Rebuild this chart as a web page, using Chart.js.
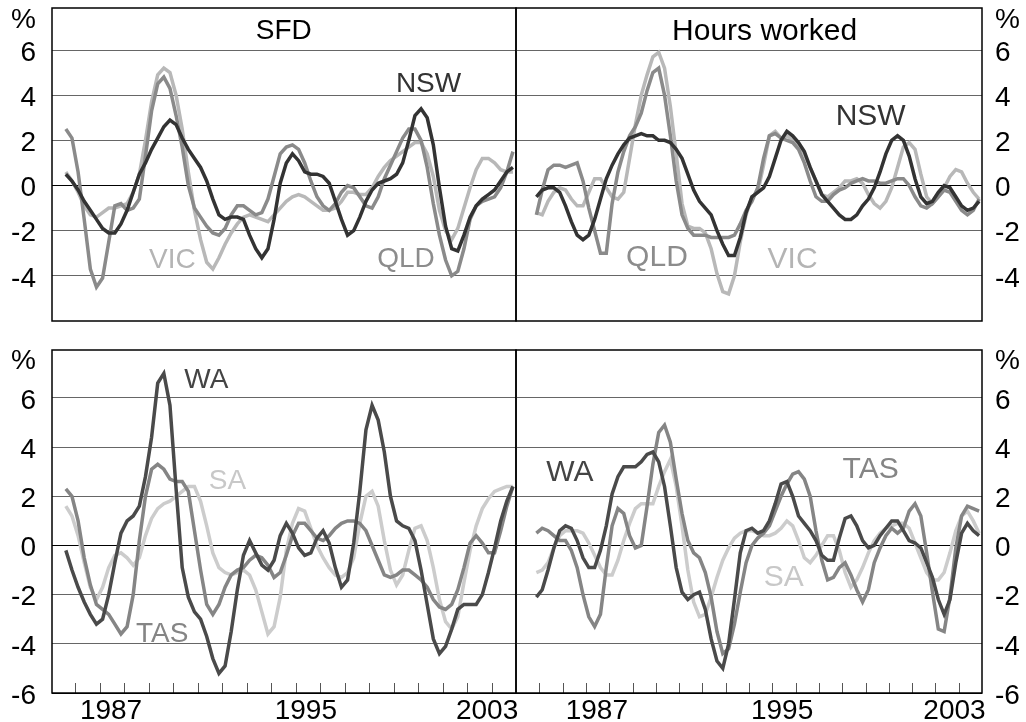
<!DOCTYPE html>
<html>
<head>
<meta charset="utf-8">
<title>SFD and hours worked by state</title>
<script src="https://cdn.jsdelivr.net/npm/chart.js@4.4.1/dist/chart.umd.min.js"></script>
<style>
  html, body { margin: 0; padding: 0; background: #fff; }
  #wrap { position: relative; width: 1026px; height: 722px; }
  #wrap canvas { position: absolute; left: 0; top: 0; }
</style>
</head>
<body>
<div id="wrap">
  <canvas id="sfdTop" width="1026" height="722"></canvas>
  <canvas id="hoursTop" width="1026" height="722"></canvas>
  <canvas id="sfdBottom" width="1026" height="722"></canvas>
  <canvas id="hoursBottom" width="1026" height="722"></canvas>
</div>
<script>
// quarterly, plotted at mid-quarter; SFD starts 1985 Q3, hours worked 1984 Q4
var sfdQuarters = [];
for (var q = 0; q < 74; q++) sfdQuarters.push(1985.625 + q * 0.25);
var hoursQuarters = [];
for (var q2 = 0; q2 < 77; q2++) hoursQuarters.push(1984.875 + q2 * 0.25);

var yearLabels = ["1987", "1995", "2003"];
var yearLabelAt = [1987.47, 1995.42, 2002.82];
var topTicks = [-4, -2, 0, 2, 4, 6];
var bottomTicks = [-6, -4, -2, 0, 2, 4, 6];

// SFD, top panel
var nswSfd = [0.5,0.2,-0.2,-0.7,-1.1, -1.5,-1.9,-2.1,-2.1,-1.7, -1.1,-0.3,0.5,1.0,1.6, 2.1,2.6,2.9,2.7,2.1,
  1.6,1.2,0.8,0.2,-0.6, -1.3,-1.5,-1.4,-1.4,-1.5, -2.2,-2.8,-3.2,-2.8,-1.5, 0.1,1.0,1.4,1.1,0.6,
  0.5,0.5,0.4,0.1,-0.7, -1.5,-2.2,-2.0,-1.4,-0.7, -0.2,0.1,0.2,0.3,0.5, 1.0,2.0,3.1,3.4,3.0,
  1.8,-0.1,-1.8,-2.8,-2.9, -2.2,-1.4,-0.9,-0.6,-0.4, -0.2,0.2,0.6,0.8];
var vicSfd = [0.6,0.2,-0.3,-0.9,-1.3, -1.4,-1.2,-1.0,-1.0,-0.9, -0.8,-0.3,0.5,2.0,3.7, 4.9,5.2,5.0,4.0,2.5,
  0.6,-1.1,-2.4,-3.4,-3.7, -3.2,-2.6,-2.1,-1.7,-1.4, -1.3,-1.4,-1.5,-1.6,-1.3, -1.0,-0.7,-0.5,-0.4,-0.5,
  -0.7,-0.9,-1.1,-1.1,-1.0, -0.7,-0.3,-0.3,-0.4,-0.4, -0.1,0.4,0.8,1.1,1.3, 1.5,1.7,1.9,1.9,1.4,
  0.4,-1.1,-2.0,-2.4,-1.9, -1.0,-0.1,0.7,1.2,1.2, 1.0,0.7,0.6,0.6];
var qldSfd = [2.5,2.1,0.6,-1.5,-3.7, -4.5,-4.1,-2.5,-0.9,-0.8, -1.1,-1.0,-0.6,1.3,3.3, 4.5,4.8,4.3,3.1,1.7,
  0.0,-1.0,-1.4,-1.8,-2.1, -2.2,-1.9,-1.3,-0.9,-0.9, -1.1,-1.3,-1.2,-0.6,0.4, 1.4,1.7,1.8,1.6,1.0,
  0.2,-0.5,-0.9,-1.1,-0.8, -0.3,0.0,-0.1,-0.5,-0.9, -1.0,-0.5,0.3,0.9,1.5, 2.1,2.5,2.5,2.0,0.8,
  -0.8,-2.2,-3.3,-4.0,-3.8, -2.8,-1.5,-0.9,-0.7,-0.6, -0.5,-0.1,0.6,1.5];

// SFD, bottom panel
var waSfd = [-0.2,-1.0,-1.7,-2.3,-2.8, -3.2,-3.0,-2.0,-0.7,0.5, 1.0,1.2,1.6,2.8,4.4, 6.6,7.0,5.7,2.3,-0.9,
  -2.1,-2.7,-3.0,-3.7,-4.6, -5.2,-4.9,-3.5,-1.8,-0.4, 0.2,-0.3,-0.8,-1.0,-0.6, 0.4,0.9,0.5,-0.1,-0.4,
  -0.3,0.3,0.6,0.1,-0.9, -1.7,-1.4,0.1,2.2,4.7, 5.7,5.1,3.8,2.0,1.0, 0.8,0.7,0.2,-1.0,-2.4,
  -3.8,-4.4,-4.1,-3.4,-2.6, -2.4,-2.4,-2.4,-2.0,-1.1, -0.1,1.0,1.8,2.4];
var tasSfd = [2.3,2.0,1.0,-0.5,-1.6, -2.4,-2.6,-2.8,-3.2,-3.6, -3.3,-2.0,0.2,2.0,3.1, 3.3,3.1,2.7,2.6,2.6,
  2.2,0.6,-1.0,-2.4,-2.8, -2.4,-1.7,-1.2,-1.0,-0.9, -0.6,-0.4,-0.5,-0.8,-1.3, -1.1,-0.4,0.4,0.9,0.9,
  0.6,0.3,0.2,0.4,0.7, 0.9,1.0,1.0,0.9,0.6, 0.0,-0.6,-1.2,-1.3,-1.2, -1.0,-1.0,-1.2,-1.4,-1.7,
  -2.2,-2.5,-2.6,-2.4,-1.8, -0.9,0.1,0.4,0.1,-0.3, -0.3,0.6,1.6,2.4];
var saSfd = [1.6,1.2,0.4,-0.7,-1.7, -2.2,-1.7,-0.9,-0.4,-0.3, -0.5,-0.8,-0.5,0.4,1.1, 1.5,1.7,1.8,2.0,2.2,
  2.4,2.4,1.8,0.8,-0.3, -0.9,-1.1,-1.2,-1.1,-1.0, -1.2,-1.8,-2.7,-3.6,-3.3, -2.1,-0.2,0.9,1.5,1.4,
  0.7,0.0,-0.5,-0.9,-1.2, -1.3,-1.1,-0.5,0.9,2.0, 2.2,1.6,0.2,-1.0,-1.6, -1.2,-0.2,0.7,0.8,0.2,
  -0.9,-2.2,-3.1,-3.4,-2.9, -1.5,-0.2,0.8,1.5,1.9, 2.2,2.3,2.4,2.4];

// Hours worked, top panel
var nswHours = [-0.5,-0.2,-0.1,-0.1,-0.3, -0.9,-1.6,-2.2,-2.4,-2.2, -1.5,-0.6,0.3,0.9,1.4, 1.8,2.1,2.2,2.3,2.2,
  2.2,2.0,2.0,1.9,1.6, 1.2,0.5,-0.2,-0.7,-1.0, -1.3,-2.0,-2.6,-3.1,-3.1, -2.3,-1.2,-0.5,-0.3,-0.1,
  0.4,1.2,2.0,2.4,2.2, 1.9,1.5,0.8,0.2,-0.4, -0.7,-1.0,-1.3,-1.5,-1.5, -1.3,-0.9,-0.6,-0.1,0.6,
  1.4,2.0,2.2,2.0,1.3, 0.3,-0.5,-0.8,-0.7,-0.3, 0.0,-0.1,-0.5,-0.9,-1.1, -1.0,-0.7];
var qldHours = [-1.3,-0.2,0.7,0.9,0.9, 0.8,0.9,1.0,0.2,-1.0, -2.0,-3.0,-3.0,-0.8,0.6, 1.5,2.2,2.6,3.2,4.2,
  5.0,5.2,4.0,2.2,0.2, -1.3,-1.9,-2.2,-2.2,-2.2, -2.3,-2.3,-2.3,-2.3,-2.2, -1.7,-1.1,-0.7,-0.1,1.2,
  2.2,2.3,2.1,2.0,1.9, 1.6,1.0,0.2,-0.5,-0.7, -0.7,-0.4,-0.2,-0.1,0.1, 0.2,0.3,0.2,0.2,0.1,
  0.1,0.2,0.3,0.3,0.0, -0.5,-0.9,-1.0,-0.8,-0.5, -0.2,-0.3,-0.7,-1.1,-1.3, -1.1,-0.6];
var vicHours = [-1.2,-1.3,-0.7,-0.3,-0.1, -0.2,-0.6,-0.9,-0.9,-0.3, 0.3,0.3,-0.1,-0.5,-0.6, -0.3,1.2,2.7,4.0,4.9,
  5.7,5.9,5.2,3.5,1.4, -0.8,-1.8,-1.9,-1.9,-2.1, -2.8,-3.9,-4.7,-4.8,-4.0, -2.5,-1.3,-0.5,-0.3,0.9,
  2.2,2.4,2.1,2.2,2.0, 1.8,1.4,0.8,0.2,-0.4, -0.5,-0.3,-0.1,0.2,0.2, 0.3,0.1,-0.4,-0.8,-1.0,
  -0.7,-0.1,0.8,1.7,1.9, 1.6,0.5,-0.5,-0.8,-0.5, -0.1,0.4,0.7,0.6,0.1, -0.3,-0.6];

// Hours worked, bottom panel
var waHours = [-2.1,-1.8,-1.0,-0.1,0.6, 0.8,0.7,0.2,-0.5,-0.9, -0.9,-0.2,0.8,2.1,2.8, 3.2,3.2,3.2,3.4,3.7,
  3.8,3.4,2.4,0.8,-0.9, -1.9,-2.2,-2.0,-1.9,-2.6, -3.8,-4.7,-5.0,-4.0,-2.2, -0.3,0.6,0.7,0.5,0.6,
  1.0,1.7,2.5,2.6,2.0, 1.2,0.9,0.6,0.2,-0.4, -0.6,-0.6,0.3,1.1,1.2, 0.8,0.2,-0.1,0.0,0.4,
  0.7,1.0,1.0,0.6,0.2, 0.1,-0.1,-0.7,-1.3,-2.2, -2.8,-2.2,-0.7,0.5,0.9, 0.6,0.4];
var tasHours = [0.5,0.7,0.6,0.4,0.2, 0.2,-0.2,-0.9,-2.0,-2.9, -3.3,-2.8,-0.9,0.8,1.5, 1.3,0.4,-0.1,0.0,1.6,
  3.3,4.6,4.9,4.2,2.7, 1.3,0.2,-0.3,-0.5,-1.1, -2.1,-3.5,-4.4,-4.2,-3.2, -1.9,-0.7,0.0,0.3,0.5,
  0.8,1.4,2.0,2.5,2.9, 3.0,2.7,2.0,0.6,-0.6, -1.4,-1.3,-0.9,-0.7,-1.2, -1.8,-2.3,-1.8,-0.7,-0.1,
  0.4,0.7,0.5,0.7,1.4, 1.7,1.2,-0.3,-1.9,-3.4, -3.5,-2.1,-0.1,1.2,1.6, 1.5,1.4];
var saHours = [-1.1,-1.0,-0.7,-0.1,0.4, 0.6,0.6,0.6,0.5,0.1, -0.4,-0.9,-1.2,-1.2,-0.6, 0.2,0.9,1.5,1.7,1.7,
  1.7,2.4,3.0,3.5,2.4, 0.8,-1.0,-2.3,-2.9,-2.8, -2.1,-1.3,-0.6,-0.1,0.3, 0.5,0.6,0.6,0.5,0.4,
  0.4,0.5,0.7,1.0,0.8, 0.2,-0.5,-0.7,-0.4,0.0, 0.4,0.4,-0.2,-1.1,-1.7, -1.4,-0.9,-0.3,0.2,0.5,
  0.7,0.8,0.9,0.9,0.7, 0.1,-0.5,-1.1,-1.4,-1.4, -1.1,-0.3,0.6,1.2,1.4, 1.0,0.5];

var FONT = "'Liberation Sans', Arial, sans-serif";
Chart.defaults.font.family = FONT;
Chart.defaults.font.size = 28;
Chart.defaults.color = "#000";

// frame, inward year ticks and the text labels inside each panel
var panelExtras = {
  id: "panelExtras",
  afterDatasetsDraw: function (chart, args, opts) {
    var ctx = chart.ctx, a = chart.chartArea, sx = chart.scales.x, sy = chart.scales.y;
    ctx.save();
    if (opts.yearTicks) {
      ctx.strokeStyle = "#555";
      ctx.lineWidth = 1;
      for (var yr = Math.ceil(sx.min + 0.01); yr < sx.max - 0.01; yr++) {
        var px = Math.round(sx.getPixelForValue(yr)) + 0.5;
        ctx.beginPath();
        ctx.moveTo(px, a.bottom);
        ctx.lineTo(px, a.bottom - 10);
        ctx.stroke();
      }
    }
    ctx.strokeStyle = "#000";
    ctx.lineWidth = 1.5;
    ctx.strokeRect(a.left, a.top, a.right - a.left, a.bottom - a.top);
    ctx.textAlign = "center";
    ctx.textBaseline = "middle";
    (opts.labels || []).forEach(function (l) {
      ctx.font = (opts.fontSize || 28) + "px " + FONT;
      ctx.fillStyle = l.color;
      // same small downward nudge as the tick labels get
      ctx.fillText(l.text, sx.getPixelForValue(l.x), sy.getPixelForValue(l.y) + 3);
    });
    ctx.restore();
  }
};

function noPadding(s) {
  s.paddingTop = 0;
  s.paddingBottom = 0;
  s.paddingLeft = 0;
  s.paddingRight = 0;
}

function makePanel(id, cfg) {
  var left = cfg.side === "left";
  return new Chart(document.getElementById(id), {
    type: "line",
    data: {
      datasets: cfg.series.map(function (s) {
        return {
          label: s.name,
          data: cfg.quarters.map(function (q, i) { return { x: q, y: s.values[i] }; }),
          borderColor: s.color,
          borderWidth: 3.5,
          pointRadius: 0,
          tension: 0,
          fill: false
        };
      })
    },
    options: {
      responsive: false,
      animation: false,
      events: [],
      layout: { autoPadding: false, padding: cfg.padding },
      plugins: {
        legend: { display: false },
        tooltip: { enabled: false },
        panelExtras: { labels: cfg.labels, yearTicks: cfg.showYears, fontSize: left ? 28 : 30 }
      },
      scales: {
        x: {
          type: "linear",
          min: cfg.xMin,
          max: 2004,
          display: cfg.showYears,
          grid: { display: false, drawTicks: false },
          border: { display: false },
          ticks: {
            padding: 1,
            maxRotation: 0,
            autoSkip: false,
            callback: function (v, i) { return yearLabels[i]; }
          },
          afterBuildTicks: function (s) { s.ticks = yearLabelAt.map(function (v) { return { value: v }; }); },
          afterFit: function (s) { s.height = 29; noPadding(s); }
        },
        y: {
          type: "linear",
          min: -6,
          max: cfg.yMax,
          position: cfg.side,
          grid: {
            drawTicks: false,
            lineWidth: 1,
            color: function (c) {
              if (!c.tick) return "#666";
              if (c.tick.value > 7) return "rgba(0,0,0,0)";
              if (c.tick.value === 0 || c.tick.value === -6) return "#000";
              return "#666";
            }
          },
          border: { display: false },
          ticks: {
            padding: left ? 16 : 13,
            labelOffset: 3,
            callback: function (v) { return v > 7 ? "%" : String(v); }
          },
          afterBuildTicks: function (s) {
            s.ticks = cfg.yTicks.concat([cfg.pctAt]).map(function (v) { return { value: v }; });
          },
          afterFit: function (s) { s.width = left ? 52 : 44; noPadding(s); }
        }
      }
    },
    plugins: [panelExtras]
  });
}

makePanel("sfdTop", {
  side: "left", xMin: 1985.06, yMax: 7.86, yTicks: topTicks, pctAt: 7.46, showYears: false,
  padding: { left: 0, right: 510, top: 8, bottom: 372 },
  quarters: sfdQuarters,
  series: [
    { name: "NSW", values: nswSfd, color: "#333333" },
    { name: "QLD", values: qldSfd, color: "#8a8a8a" },
    { name: "VIC", values: vicSfd, color: "#b8b8b8" }
  ],
  labels: [
    { text: "SFD", x: 1994.52, y: 6.98, color: "#000" },
    { text: "NSW", x: 2000.43, y: 4.62, color: "#333333" },
    { text: "VIC", x: 1989.97, y: -3.16, color: "#b4b4b4" },
    { text: "QLD", x: 1999.51, y: -3.12, color: "#8c8c8c" }
  ]
});

makePanel("hoursTop", {
  side: "right", xMin: 1984, yMax: 7.86, yTicks: topTicks, pctAt: 7.46, showYears: false,
  padding: { left: 516, right: 0, top: 8, bottom: 372 },
  quarters: hoursQuarters,
  series: [
    { name: "NSW", values: nswHours, color: "#333333" },
    { name: "QLD", values: qldHours, color: "#8a8a8a" },
    { name: "VIC", values: vicHours, color: "#b8b8b8" }
  ],
  labels: [
    { text: "Hours worked", x: 1994.67, y: 6.95, color: "#000" },
    { text: "NSW", x: 1999.22, y: 3.16, color: "#333333" },
    { text: "QLD", x: 1990.05, y: -3.06, color: "#8c8c8c" },
    { text: "VIC", x: 1995.87, y: -3.16, color: "#b4b4b4" }
  ]
});

makePanel("sfdBottom", {
  side: "left", xMin: 1985.06, yMax: 7.95, yTicks: bottomTicks, pctAt: 7.62, showYears: true,
  padding: { left: 0, right: 510, top: 350, bottom: 0 },
  quarters: sfdQuarters,
  series: [
    { name: "WA", values: waSfd, color: "#4a4a4a" },
    { name: "TAS", values: tasSfd, color: "#858585" },
    { name: "SA", values: saSfd, color: "#cccccc" }
  ],
  labels: [
    { text: "WA", x: 1991.36, y: 6.84, color: "#444444" },
    { text: "SA", x: 1992.22, y: 2.75, color: "#c8c8c8" },
    { text: "TAS", x: 1989.56, y: -3.47, color: "#858585" }
  ]
});

makePanel("hoursBottom", {
  side: "right", xMin: 1984, yMax: 7.95, yTicks: bottomTicks, pctAt: 7.62, showYears: true,
  padding: { left: 516, right: 0, top: 350, bottom: 0 },
  quarters: hoursQuarters,
  series: [
    { name: "WA", values: waHours, color: "#4a4a4a" },
    { name: "TAS", values: tasHours, color: "#858585" },
    { name: "SA", values: saHours, color: "#cccccc" }
  ],
  labels: [
    { text: "WA", x: 1986.31, y: 3.1, color: "#444444" },
    { text: "TAS", x: 1999.22, y: 3.19, color: "#858585" },
    { text: "SA", x: 1995.49, y: -1.2, color: "#c8c8c8" }
  ]
});
</script>
</body>
</html>
